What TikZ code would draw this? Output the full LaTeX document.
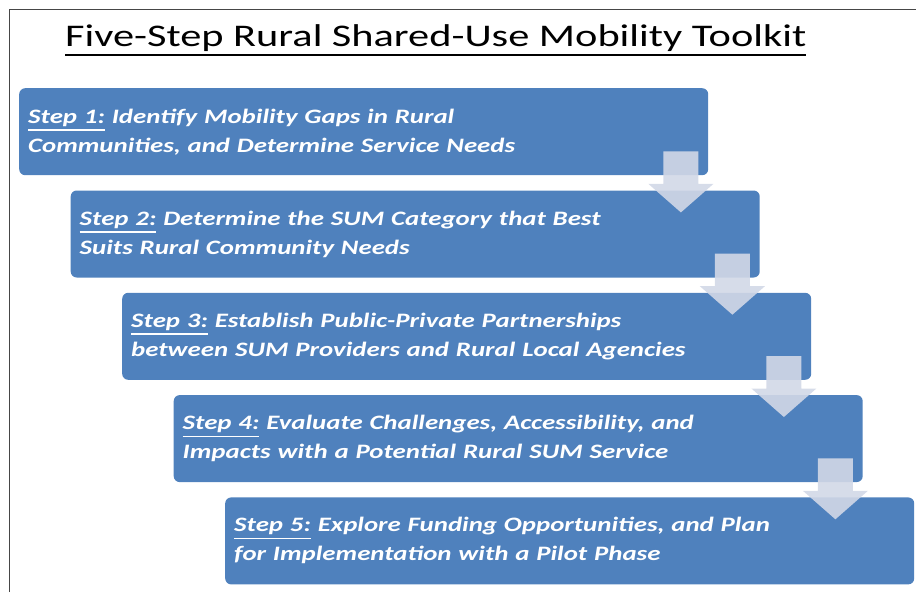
\documentclass[tikz,border=0pt]{standalone}
\usepackage{fontspec}
\setmainfont{Carlito}
\newfontfamily\titlefont[FakeStretch=1.345]{Carlito}
\newfontfamily\stepfont[FakeStretch=1.31]{Carlito}
\usetikzlibrary{calc}

\definecolor{stepblue}{RGB}{79,129,189}
\definecolor{arrowtint}{RGB}{210,216,231}
\definecolor{framegrey}{RGB}{70,70,70}

% underline drawn as a rule at a chosen depth below the baseline
\newcommand{\lineunder}[4]{%
  \setbox0\hbox{#1}%
  \rlap{\color{#2}\rule[-#3]{\wd0}{#4}}\box0}
\newcommand{\steplabel}[1]{\lineunder{#1}{white}{7.5pt}{1.3pt}}

\tikzset{
  stepbox/.style={draw=none, fill=stepblue, rounded corners=6pt,
    minimum width=689pt, minimum height=87pt, anchor=north west,
    text width=671pt, inner xsep=9pt, inner ysep=0pt, align=left,
    text=white, font=\stepfont\fontsize{20.5}{29}\selectfont\bfseries\itshape},
  flowarrow/.style={fill=arrowtint, fill opacity=0.9, draw=none},
}

% down arrow hanging off the lower right corner of a step box
\newcommand{\steparrow}[1]{%
  \fill[flowarrow]
    ($(#1.south east)+(-45,-24)$) -- ($(#1.south east)+(-10,-24)$)
    -- ($(#1.south east)+(-10,8.5)$) -- ($(#1.south east)+(5,8.5)$)
    -- ($(#1.south east)+(-27.5,37)$) -- ($(#1.south east)+(-60,8.5)$)
    -- ($(#1.south east)+(-45,8.5)$) -- cycle;}

\begin{document}
\begin{tikzpicture}[x=1pt, y=-1pt]
  \useasboundingbox (0,0) rectangle (916,592);

  % outer frame (open at right and bottom)
  \draw[framegrey, line width=1.5pt] (9.5,592) -- (9.5,9.5) -- (916,9.5);

  % title
  \node[anchor=base west, inner sep=0pt, font=\titlefont\fontsize{31.5}{36}\selectfont] (title) at (65,46)
    {\lineunder{Five-Step Rural Shared-Use Mobility Toolkit}{black}{10.2pt}{2pt}};

  % steps
  \node[stepbox] (s1) at (19,88)
    {\steplabel{Step 1:}\ Identify Mobility Gaps in Rural\\
     Communities, and Determine Service Needs};
  \node[stepbox] (s2) at (70.5,190.3)
    {\steplabel{Step 2:}\ Determine the SUM Category that Best\\
     Suits Rural Community Needs};
  \node[stepbox] (s3) at (122,292.6)
    {\steplabel{Step 3:}\ Establish Public-Private Partnerships\\
     between SUM Providers and Rural Local Agencies};
  \node[stepbox] (s4) at (173.5,394.9)
    {\steplabel{Step 4:}\ Evaluate Challenges, Accessibility, and\\
     Impacts with a Potential Rural SUM Service};
  \node[stepbox] (s5) at (225,497.2)
    {\steplabel{Step 5:}\ Explore Funding Opportunities, and Plan\\
     for Implementation with a Pilot Phase};

  % arrows between consecutive steps
  \steparrow{s1}
  \steparrow{s2}
  \steparrow{s3}
  \steparrow{s4}
\end{tikzpicture}
\end{document}
